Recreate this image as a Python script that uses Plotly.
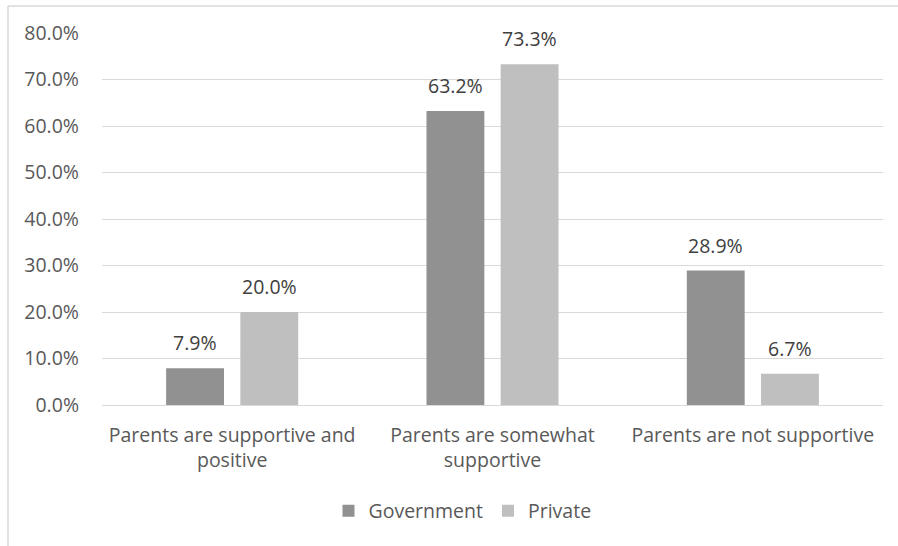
import plotly.graph_objects as go

categories = [
    "Parents are supportive and<br>positive",
    "Parents are somewhat<br>supportive",
    "Parents are not supportive",
]
government = [7.9, 63.2, 28.9]
private = [20.0, 73.3, 6.7]
y_ticks = [0, 10, 20, 30, 40, 50, 60, 70, 80]
y_tick_labels = [f"{v:.1f}%" for v in y_ticks]

FONT = "Open Sans, Liberation Sans, sans-serif"
FS = 19.5
TEXT_COLOR = "#595959"
GRID = "#d9d9d9"

series = [
    ("Government", government, "#919191"),
    ("Private", private, "#bfbfbf"),
]

fig = go.Figure()
for name, vals, color in series:
    fig.add_trace(go.Bar(
        name=name,
        x=categories,
        y=vals,
        marker=dict(color=color, line=dict(width=0)),
        offsetgroup=name,
    ))

W, H = 898, 546
ml, mr, mt, mb = 102, 15, 33, 141
pw, ph = W - ml - mr, H - mt - mb

def px_x(p):
    return (p - ml) / pw

def px_y(p):
    return (H - mb - p) / ph

# value labels placed above each bar
annotations = []
bar_offsets = [-0.143, 0.143]
for (name, vals, _), off in zip(series, bar_offsets):
    for i, v in enumerate(vals):
        annotations.append(dict(
            x=i + off, y=v, xref="x", yref="y",
            text=f"{v:.1f}%", showarrow=False,
            yanchor="bottom", yshift=10,
            font=dict(family=FONT, size=FS, color="#404040"),
        ))

fig.update_layout(
    width=W,
    height=H,
    margin=dict(l=ml, r=mr, t=mt, b=mb),
    paper_bgcolor="white",
    plot_bgcolor="white",
    barmode="group",
    bargap=0.43,
    bargroupgap=0.22,
    font=dict(family=FONT, size=FS, color=TEXT_COLOR),
    showlegend=True,
    legend=dict(
        orientation="h",
        x=0.5 - 30 / pw,
        xanchor="center",
        y=px_y(511),
        yanchor="middle",
        font=dict(family=FONT, size=FS, color=TEXT_COLOR),
        itemwidth=30,
        traceorder="normal",
    ),
    xaxis=dict(
        showgrid=False,
        showline=False,
        ticks="",
        ticklabelstandoff=16,
        tickfont=dict(family=FONT, size=FS, color=TEXT_COLOR),
    ),
    yaxis=dict(
        range=[0, 80],
        tickvals=y_ticks,
        ticktext=y_tick_labels,
        showgrid=True,
        gridcolor=GRID,
        gridwidth=1,
        zeroline=True,
        zerolinecolor=GRID,
        zerolinewidth=1,
        showline=False,
        ticks="",
        ticklabelstandoff=22,
        tickfont=dict(family=FONT, size=FS, color=TEXT_COLOR),
    ),
    annotations=annotations,
    shapes=[
        dict(type="line", xref="paper", yref="paper",
             x0=px_x(8), x1=px_x(8), y0=px_y(6), y1=px_y(560),
             line=dict(color=GRID, width=1.5)),
        dict(type="line", xref="paper", yref="paper",
             x0=px_x(8), x1=px_x(910), y0=px_y(6), y1=px_y(6),
             line=dict(color=GRID, width=1.5)),
    ],
)

fig.write_html("out.html")
